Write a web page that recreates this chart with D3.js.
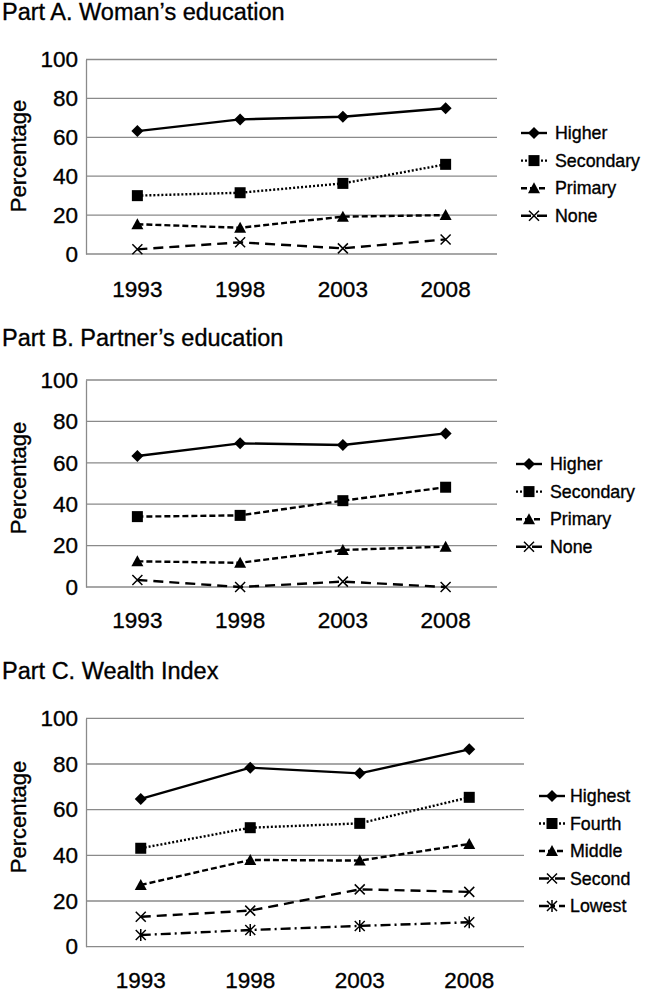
<!DOCTYPE html>
<html>
<head>
<meta charset="utf-8">
<script src="https://cdn.jsdelivr.net/npm/d3@7"></script>
<style>
  html, body { margin: 0; padding: 0; background: #fff; }
  svg { display: block; font-family: "Liberation Sans", Arial, sans-serif; }
  svg text { stroke: #000; stroke-width: 0.35px; }
</style>
</head>
<body>
<svg id="chart" width="646" height="993"></svg>
<script>
// ---------- data ----------
const years = ["1993", "1998", "2003", "2008"];
const yTicks = [0, 20, 40, 60, 80, 100];

const eduLevels = ["Higher", "Secondary", "Primary", "None"];
const wealthLevels = ["Highest", "Fourth", "Middle", "Second", "Lowest"];

const womanHigher    = [63.2, 69.2, 70.6, 74.9];
const womanSecondary = [30.0, 31.5, 36.3, 46.1];
const womanPrimary   = [15.3, 13.5, 19.2, 20.0];
const womanNone      = [2.4, 6.0, 2.9, 7.5];

const partnerHigher    = [63.3, 69.4, 68.6, 74.2];
const partnerSecondary = [34.0, 34.6, 41.7, 48.2];
const partnerPrimary   = [12.4, 11.7, 17.9, 19.5];
const partnerNone      = [3.4, 0.0, 2.6, 0.0];

const wealthHighest = [64.7, 78.4, 75.9, 86.4];
const wealthFourth  = [43.1, 52.1, 54.0, 65.4];
const wealthMiddle  = [27.0, 38.0, 37.7, 45.0];
const wealthSecond  = [13.1, 15.8, 25.1, 24.0];
const wealthLowest  = [5.1, 7.3, 9.1, 10.7];

// ---------- styles ----------
const DASH = {
  solid: null,
  dotted: "2,2",
  dashed: "6,3",
  long: "10,6",
  dashdot: "10,4,2,4"
};

const svg = d3.select("#chart");
const gridColor = "#8a8a8a";

function marker(g, type, x, y) {
  const s = 6;
  if (type === "diamond") {
    g.append("path").attr("d", `M${x},${y - s}L${x + s},${y}L${x},${y + s}L${x - s},${y}Z`).attr("fill", "#000");
  } else if (type === "square") {
    g.append("rect").attr("x", x - 5.5).attr("y", y - 5.5).attr("width", 11).attr("height", 11).attr("fill", "#000");
  } else if (type === "triangle") {
    g.append("path").attr("d", `M${x},${y - 6}L${x + 6},${y + 5}L${x - 6},${y + 5}Z`).attr("fill", "#000");
  } else if (type === "x" || type === "star") {
    const r = 5;
    g.append("path").attr("d", `M${x - r},${y - r}L${x + r},${y + r}M${x - r},${y + r}L${x + r},${y - r}` + (type === "star" ? `M${x},${y - r - 1}L${x},${y + r + 1}` : ""))
      .attr("stroke", "#000").attr("stroke-width", 1.5).attr("fill", "none");
  }
}

function drawPanel(p) {
  const g = svg.append("g");
  const x = d3.scaleBand().domain(years).range([p.left, p.right]);
  const y = d3.scaleLinear().domain([0, 100]).range([p.bottom, p.top]);

  g.append("text").attr("x", 2).attr("y", p.titleY).attr("font-size", 23.5).attr("fill", "#000").text(p.title);

  // gridlines
  g.selectAll(".grid").data(yTicks).enter().append("line")
    .attr("x1", p.left).attr("x2", p.right)
    .attr("y1", d => y(d)).attr("y2", d => y(d))
    .attr("stroke", gridColor).attr("stroke-width", 1.3);

  // y axis (line + labels)
  const yAxis = d3.axisLeft(y).tickValues(yTicks).tickSize(0).tickPadding(8);
  const ya = g.append("g").attr("transform", `translate(${p.left},0)`).call(yAxis);
  ya.select(".domain").attr("stroke", gridColor).attr("stroke-width", 1.3);
  ya.selectAll("text").attr("font-size", 22.5).attr("fill", "#000").attr("font-family", "Liberation Sans, Arial, sans-serif");

  // x axis labels
  const xAxis = d3.axisBottom(x).tickSize(0).tickPadding(0);
  const xa = g.append("g").attr("transform", `translate(0,${p.xLabelY})`).call(xAxis);
  xa.select(".domain").remove();
  xa.selectAll("text").attr("font-size", 22.5).attr("fill", "#000").attr("dy", 0).attr("y", 0)
    .attr("font-family", "Liberation Sans, Arial, sans-serif");

  // y title
  g.append("text").attr("transform", `translate(26,${p.yLabelY}) rotate(-90)`)
    .attr("text-anchor", "middle").attr("font-size", 22).attr("fill", "#000").text("Percentage");

  const line = d3.line().x((d, i) => x(years[i]) + x.bandwidth() / 2).y(d => y(d));

  p.series.forEach((s, k) => {
    g.append("path").attr("d", line(s.values)).attr("fill", "none").attr("stroke", "#000")
      .attr("stroke-width", 2.4).attr("stroke-dasharray", DASH[s.dash]);
    s.values.forEach((v, i) => marker(g, s.marker, x(years[i]) + x.bandwidth() / 2, y(v)));

    // legend
    const ly = p.legendY + k * p.legendStep;
    g.append("line").attr("x1", p.legX1).attr("x2", p.legX2).attr("y1", ly).attr("y2", ly)
      .attr("stroke", "#000").attr("stroke-width", 2.4).attr("stroke-dasharray", DASH[s.legendDash || s.dash]);
    marker(g, s.marker, (p.legX1 + p.legX2) / 2, ly);
    g.append("text").attr("x", p.legTextX).attr("y", ly).attr("dy", "0.35em")
      .attr("font-size", 17.8).attr("fill", "#000").text(s.name);
  });
}

drawPanel({
  title: "Part A. Woman’s education", titleY: 19.5,
  left: 86, right: 497, top: 59.5, bottom: 254, xLabelY: 296.5, yLabelY: 156,
  legendY: 133, legendStep: 27.6, legX1: 521, legX2: 547, legTextX: 555,
  series: [
    { name: eduLevels[0], values: womanHigher, dash: "solid", marker: "diamond" },
    { name: eduLevels[1], values: womanSecondary, dash: "dotted", marker: "square" },
    { name: eduLevels[2], values: womanPrimary, dash: "dashed", marker: "triangle" },
    { name: eduLevels[3], values: womanNone, dash: "long", marker: "x" }
  ]
});

drawPanel({
  title: "Part B. Partner’s education", titleY: 346,
  left: 86, right: 497, top: 380, bottom: 587, xLabelY: 628, yLabelY: 478,
  legendY: 464, legendStep: 27.6, legX1: 516, legX2: 542, legTextX: 550,
  series: [
    { name: eduLevels[0], values: partnerHigher, dash: "solid", marker: "diamond" },
    { name: eduLevels[1], values: partnerSecondary, dash: "dashed", legendDash: "dotted", marker: "square" },
    { name: eduLevels[2], values: partnerPrimary, dash: "dashed", marker: "triangle" },
    { name: eduLevels[3], values: partnerNone, dash: "long", marker: "x" }
  ]
});

drawPanel({
  title: "Part C. Wealth Index", titleY: 679,
  left: 86, right: 524, top: 718.3, bottom: 946.7, xLabelY: 988, yLabelY: 817,
  legendY: 796, legendStep: 27.5, legX1: 539, legX2: 565, legTextX: 570,
  series: [
    { name: wealthLevels[0], values: wealthHighest, dash: "solid", marker: "diamond" },
    { name: wealthLevels[1], values: wealthFourth, dash: "dotted", marker: "square" },
    { name: wealthLevels[2], values: wealthMiddle, dash: "dashed", marker: "triangle" },
    { name: wealthLevels[3], values: wealthSecond, dash: "long", marker: "x" },
    { name: wealthLevels[4], values: wealthLowest, dash: "dashdot", marker: "star" }
  ]
});
</script>
</body>
</html>
